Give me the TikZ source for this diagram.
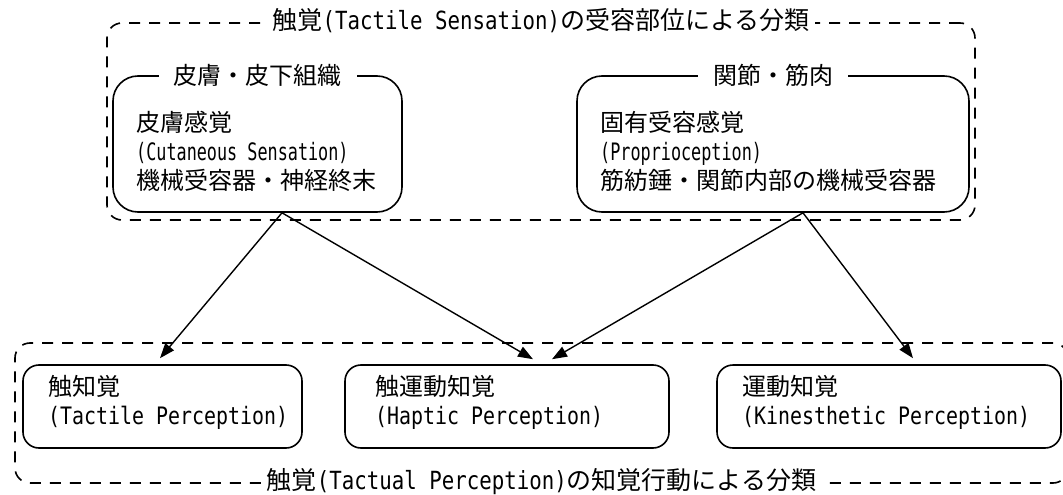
\documentclass[tikz,border=0pt]{standalone}
\usepackage{fontspec}
\setmainfont{Noto Sans CJK JP}
\newfontfamily\mylatfont{DejaVu Sans Mono}[FakeStretch=0.83]
\newfontfamily\mylatnarrow{DejaVu Sans Mono}[FakeStretch=0.70]
\newcommand\ml[1]{{\mylatfont #1}}
\newcommand\mls[1]{{\mylatnarrow #1}}
\usetikzlibrary{arrows.meta,calc}
\begin{document}
\begin{tikzpicture}[x=1pt,y=-1pt,
  every node/.style={font=\fontsize{24pt}{29pt}\selectfont, inner sep=0pt},
  rbox/.style={draw, line width=1.6pt, rounded corners=25pt},
  sbox/.style={draw, line width=1.6pt, rounded corners=16pt, minimum height=83pt},
  dbox/.style={draw, line width=1.6pt, dash pattern=on 11pt off 9pt, rounded corners=15pt},
  lab/.style={fill=white, inner xsep=15pt, inner ysep=2pt},
  ttl/.style={fill=white, inner xsep=6pt, inner ysep=0pt, font=\fontsize{25pt}{29pt}\selectfont},
  txt/.style={anchor=west, align=left},
  conn/.style={line width=1.4pt, -{Triangle[length=15pt,width=11pt]}}]
\useasboundingbox (0,0) rectangle (1063,495);
\clip (0,0) rectangle (1063,495);
% dashed groups
\node[dbox, minimum width=868pt, minimum height=197pt] (top) at (541,121.5) {};
\node[dbox, minimum width=1053pt, minimum height=140pt] (bot) at (541.5,413) {};
\node[ttl, yshift=2pt] (toptitle) at (top.north) {触覚\ml{(Tactile Sensation)}の受容部位による分類};
\node[ttl, yshift=2pt] (bottitle) at (bot.south) {触覚\ml{(Tactual Perception)}の知覚行動による分類};
% upper boxes
\node[rbox, minimum width=289pt, minimum height=136pt] (skin) at (257.5,144) {};
\node[rbox, minimum width=392pt, minimum height=136pt] (joint) at (773,144) {};
\node[lab] (skinl) at (skin.north) {皮膚・皮下組織};
\node[lab] (jointl) at (joint.north) {関節・筋肉};
\node[txt] (skint) at (136,151) {皮膚感覚\\\mls{(Cutaneous Sensation)}\\機械受容器・神経終末};
\node[txt] (jointt) at (600,151) {固有受容感覚\\\mls{(Proprioception)}\\筋紡錘・関節内部の機械受容器};
% lower boxes
\node[sbox, minimum width=279pt] (tac) at (162.5,406.5) {};
\node[sbox, minimum width=324pt] (hap) at (507,406.5) {};
\node[sbox, minimum width=344pt] (kin) at (889,406.5) {};
\node[txt] (tact) at (48,402.5) {触知覚\\\ml{(Tactile Perception)}};
\node[txt] (hapt) at (375,402.5) {触運動知覚\\\ml{(Haptic Perception)}};
\node[txt] (kint) at (742,402.5) {運動知覚\\\ml{(Kinesthetic Perception)}};
% connectors
\coordinate (s1) at ([xshift=24.5pt]skin.south);
\coordinate (s2) at ([xshift=30pt]joint.south);
\coordinate (e1) at ([xshift=-2.5pt,yshift=6pt]tac.north);
\coordinate (e2) at ([xshift=26pt,yshift=5pt]hap.north);
\coordinate (e3) at ([xshift=45pt,yshift=5pt]hap.north);
\coordinate (e4) at ([xshift=24pt,yshift=6pt]kin.north);
\draw[conn] (s1) -- (e1);
\draw[conn] (s1) -- (e2);
\draw[conn] (s2) -- (e3);
\draw[conn] (s2) -- (e4);
\end{tikzpicture}
\end{document}
